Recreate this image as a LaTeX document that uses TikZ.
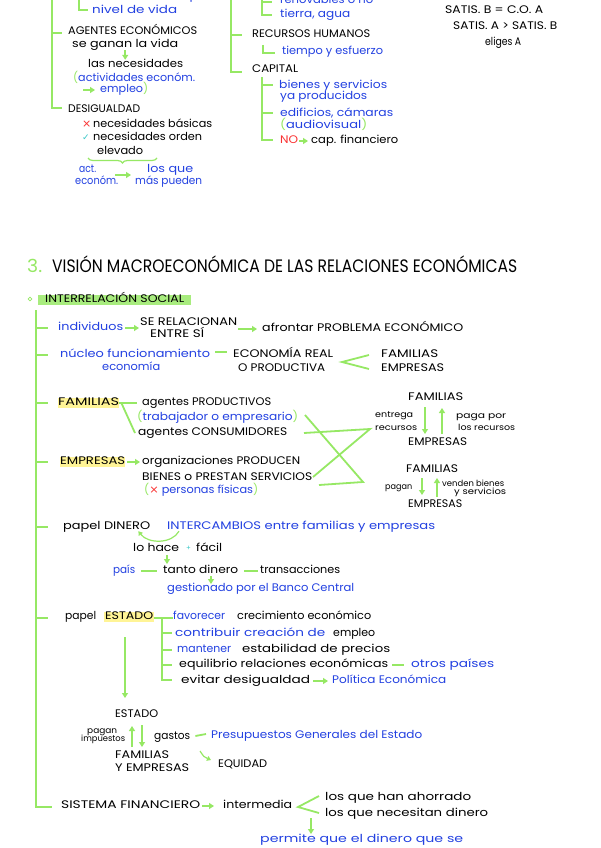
\documentclass[tikz,border=0pt]{standalone}
\usepackage{fontspec}
\setmainfont{Poppins}
\newfontfamily\dejavu{DejaVu Sans}
\usetikzlibrary{arrows.meta,decorations.pathreplacing}
\definecolor{grn}{RGB}{150,232,100}
\definecolor{blu}{RGB}{35,65,225}
\definecolor{redA}{RGB}{250,50,50}
\definecolor{tealA}{RGB}{60,200,200}
\definecolor{yel}{RGB}{255,244,150}
\definecolor{hgrn}{RGB}{168,236,126}
\newcommand\W[2]{\resizebox{#1pt}{\height}{#2}}
\newcommand\gp[1]{\textcolor{grn}{#1}}
\begin{document}
\begin{tikzpicture}[x=1pt,y=-1pt,
  tx/.style={anchor=west, inner sep=0pt, font=\fontsize{11}{13}\selectfont, text height=7.8pt, text depth=2.2pt},
  bl/.style={tx, text=blu},
  sm/.style={tx, font=\fontsize{8.5}{9.5}\selectfont, text height=6pt, text depth=1.6pt},
  ttl/.style={tx, font=\fontsize{18}{20}\selectfont, text height=12.8pt, text depth=3pt},
  gl/.style={draw=grn, line width=1.8pt},
  ga/.style={gl, -{Triangle[length=5pt,width=6pt]}},
  gthin/.style={draw=grn, line width=1.2pt, -{Triangle[length=4pt,width=5pt]}}]
\useasboundingbox (0,0) rectangle (600,848);
\fill[white] (0,0) rectangle (600,848);

% ---------- top left ----------
\draw[gl] (52,-5) -- (52,108) -- (62,108);
\draw[gl] (52,33) -- (62,33);
\draw[gl] (79,-5) -- (79,10) -- (88,10);
\node[bl] (pobl) at (92,-3) {\W{128}{bienestar de la pobl.}};
\node[bl] (nivel) at (92,11) {\W{85}{nivel de vida}};
\node[tx] (agentes) at (68,32) {\W{129}{AGENTES ECONÓMICOS}};
\node[tx] (ganan) at (72,45) {\W{106}{se ganan la vida}};
\node[tx] (neces) at (88,65) {\W{95}{las necesidades}};
\draw[ga] (ganan.south) -- (ganan.south |- neces.north);
\node[bl] (activ) at (73,79) {\W{122}{\gp{(}actividades económ.}};
\node[bl] (empleo) at (100,90) {\W{48}{empleo\gp{)}}};
\draw[ga] ([xshift=-17pt]empleo.west) -- ([xshift=-5pt]empleo.west);
\node[tx] (desig) at (68,110) {\W{72}{DESIGUALDAD}};
\node[tx,text=redA] (cross) at (82,125) {\dejavu ×};
\node[tx] (basicas) at (93,125) {\W{119}{necesidades básicas}};
\node[tx,text=tealA] (check) at (82,138) {\dejavu\fontsize{9}{10}\selectfont ✓};
\node[tx] (orden) at (93,138) {\W{109}{necesidades orden}};
\node[tx] (elevado) at (97,152) {\W{46}{elevado}};
\draw[draw=grn, line width=1.2pt, decorate, decoration={brace,mirror,amplitude=5pt}] (88,158) -- (157,158);
\node[bl] (act) at (79,170) {\W{17}{act.}};
\node[bl] (econ) at (75,182) {\W{43}{económ.}};
\node[bl] (losque) at (147,170) {\W{46}{los que}};
\node[bl] (maspue) at (135,182) {\W{67}{más pueden}};
\draw[ga] (115,175) -- (131,175);

% ---------- top middle ----------
\draw[gl] (231,-5) -- (231,72) -- (242,72);
\draw[gl] (231,35) -- (242,35);
\draw[gl] (262,-5) -- (262,15) -- (272,15);
\draw[gl] (262,2) -- (272,2);
\node[bl] (renov) at (280,1) {\W{93}{renovables o no}};
\node[bl] (tierra) at (280,15) {\W{70}{tierra, agua}};
\node[tx] (rrhh) at (252,35) {\W{118}{RECURSOS HUMANOS}};
\draw[gl] (263,45) -- (263,53) -- (275,53);
\node[bl] (tiempo) at (282,52) {\W{101}{tiempo y esfuerzo}};
\node[tx] (capital) at (252,70) {\W{46}{CAPITAL}};
\draw[gl] (262,77) -- (262,140) -- (273,140);
\draw[gl] (262,85) -- (273,85);
\draw[gl] (262,113) -- (273,113);
\node[bl] (bienes) at (279,86) {\W{108}{bienes y servicios}};
\node[bl] (yaprod) at (280,97) {\W{87}{ya producidos}};
\node[bl] (edif) at (280,114) {\W{113}{edificios, cámaras}};
\node[bl] (audio) at (280,126) {\W{87}{\gp{(}audiovisual\gp{)}}};
\node[tx,text=redA] (no) at (280,141) {\W{18}{NO}};
\node[tx] (capfin) at (311,141) {\W{87}{cap. financiero}};
\draw[ga] ([xshift=1pt]no.east) -- ([xshift=-3pt]capfin.west);

% ---------- top right ----------
\node[tx] (satA0) at (445,-4) {\W{98}{SATIS. A = C.O. B}};
\node[tx] (satB) at (445,11) {\W{98}{SATIS. B = C.O. A}};
\node[tx] (satAB) at (453,27) {\W{104}{SATIS. A > SATIS. B}};
\node[tx] (eliges) at (485,43) {\W{36}{eliges A}};

% ---------- section 3 ----------
\node[ttl,text=grn] (three) at (27,268) {\W{15}{3.}};
\node[ttl] (title) at (52,268) {\W{465}{VISIÓN MACROECONÓMICA DE LAS RELACIONES ECONÓMICAS}};
\node[circle,draw=grn,line width=0.8pt,inner sep=1.3pt] (bul) at (30,299) {};
\node[tx,fill=hgrn,inner xsep=7pt,inner ysep=0.3pt] (inter) at (38,300) {\W{139}{INTERRELACIÓN SOCIAL}};

\draw[gl] (36,310) -- (36,807) -- (52,807);
\foreach \yy in {328,355,403,462,527,618} \draw[gl] (36,\yy) -- (48,\yy);

% row individuos
\node[bl] (indiv) at (58,328) {\W{65}{individuos}};
\node[tx] (serel) at (140,323) {\W{97}{SE RELACIONAN}};
\node[tx] (entre) at (150,335) {\W{54}{ENTRE SÍ}};
\node[tx] (afron) at (262,329) {\W{201}{afrontar PROBLEMA ECONÓMICO}};
\draw[ga] ([xshift=2pt]indiv.east) -- ([xshift=-1pt]indiv.east -| serel.west);
\draw[ga] ([xshift=1pt,yshift=-6pt]serel.east) -- ([xshift=-5pt]afron.west);

% row nucleo
\node[bl] (nucleo) at (60,355) {\W{150}{núcleo funcionamiento}};
\node[bl] (econo) at (102,368) {\W{58}{economía}};
\node[tx] (ecreal) at (233,355) {\W{100}{ECONOMÍA REAL}};
\node[tx] (oprod) at (238,369) {\W{87}{O PRODUCTIVA}};
\node[tx] (fam1) at (381,355) {\W{57}{FAMILIAS}};
\node[tx] (emp1) at (381,369) {\W{63}{EMPRESAS}};
\draw[gl] ([xshift=5pt,yshift=3pt]nucleo.east) -- ([xshift=-6pt,yshift=3pt]ecreal.west);
\coordinate (apex1) at (342,362);
\draw[gl] ([xshift=-12pt]fam1.west) -- (apex1) -- ([xshift=-12pt]emp1.west);

% row familias
\node[tx,fill=yel] (fam2) at (58,403) {\W{61}{FAMILIAS}};
\node[tx] (agprod) at (142,403) {\W{129}{agentes PRODUCTIVOS}};
\node[bl] (trab) at (137,418) {\W{161}{\gp{(}trabajador o empresario\gp{)}}};
\node[tx] (agcons) at (138,433) {\W{149}{agentes CONSUMIDORES}};
\draw[gl] (fam2.east) -- ([xshift=-5pt]agprod.west);
\draw[gl] ([xshift=2pt]fam2.east) -- ([xshift=-3pt]agcons.west);

% row empresas
\node[tx,fill=yel] (emp2) at (60,462) {\W{65}{EMPRESAS}};
\node[tx] (organ) at (142,462) {\W{158}{organizaciones PRODUCEN}};
\node[tx] (bien2) at (142,478) {\W{170}{BIENES o PRESTAN SERVICIOS}};
\node[bl] (pers) at (144,491) {\W{114}{\gp{(}\textcolor{redA}{\dejavu ×} personas físicas\gp{)}}};
\draw[ga] ([xshift=2pt]emp2.east) -- ([xshift=-2pt]organ.west);

% right flow diagrams
\node[tx] (fam3) at (408,398) {\W{55}{FAMILIAS}};
\node[tx] (emp3) at (408,443) {\W{59}{EMPRESAS}};
\draw[ga] (425,407) -- (425,434);
\draw[ga] (442,434) -- (442,408);
\node[sm] (entrega) at (375,415) {\W{38}{entrega}};
\node[sm] (recur) at (375,428) {\W{42}{recursos}};
\node[sm] (pagapor) at (456,416) {\W{50}{paga por}};
\node[sm] (losrec) at (458,428) {\W{57}{los recursos}};

\node[tx] (fam4) at (406,470) {\W{52}{FAMILIAS}};
\node[tx] (emp4) at (408,505) {\W{54}{EMPRESAS}};
\draw[ga] (422,478) -- (422,495);
\draw[ga] (437,497) -- (437,478);
\node[sm] (pagan) at (385,487) {\W{27}{pagan}};
\node[sm] (venden) at (442,484) {\W{62}{venden bienes}};
\node[sm] (yserv) at (454,492) {\W{52}{y servicios}};

\coordinate (apexT) at (370,429);
\coordinate (apexB) at (363,482);
\draw[gl] (305,415) -- (apexB) -- (319,485);
\draw[gl] (304,433) -- (apexT) -- (313,477);

% row dinero
\node[tx] (papeldin) at (63,527) {\W{87}{papel DINERO}};
\node[bl] (interc) at (167,527) {\W{268}{INTERCAMBIOS entre familias y empresas}};
\draw[gthin] ([xshift=12pt,yshift=1pt]interc.south west) .. controls (172,544) and (148,544) .. ([xshift=-12pt,yshift=1pt]papeldin.south east);
\node[tx] (lohace) at (133,549) {\W{46}{lo hace}};
\node[tx,text=tealA] (mas) at (186,548) {\fontsize{7}{8}\selectfont +};
\node[tx] (facil) at (196,549) {\W{26}{fácil}};
\node[bl] (pais) at (113,571) {\W{22}{país}};
\node[tx] (tanto) at (163,571) {\W{75}{tanto dinero}};
\node[tx] (trans) at (260,571) {\W{80}{transacciones}};
\node[bl] (gest) at (167,589) {\W{187}{gestionado por el Banco Central}};
\draw[ga] (167,555) -- (167,564);
\draw[gl] ([xshift=6pt]pais.east) -- ([xshift=-6pt]tanto.west);
\draw[gl] ([xshift=6pt]tanto.east) -- ([xshift=-2pt]trans.west);
\draw[ga] (211,576) -- (211,584);

% row estado
\node[tx] (papel2) at (65,617) {\W{31}{papel}};
\node[tx,fill=yel,inner xsep=1pt] (estado) at (104,617) {\W{48}{ESTADO}};
\draw[gl] (154,618) -- (173,618);
\draw[gl] (162,618) -- (162,680) -- (172,680);
\foreach \yy in {633,650,665} \draw[gl] (162,\yy) -- (172,\yy);
\node[bl] (fav) at (173,617) {\W{52}{favorecer}};
\node[tx] (crec) at (237,617) {\W{134}{crecimiento económico}};
\node[bl] (contr) at (175,634) {\W{150}{contribuir creación de}};
\node[tx] (empl2) at (333,634) {\W{42}{empleo}};
\node[bl] (mant) at (177,650) {\W{54}{mantener}};
\node[tx] (estab) at (242,650) {\W{148}{estabilidad de precios}};
\node[tx] (equil) at (179,665) {\W{209}{equilibrio relaciones económicas}};
\node[bl] (otros) at (411,665) {\W{83}{otros países}};
\draw[gl] ([xshift=4pt]equil.east) -- ([xshift=-7pt]otros.west);
\node[tx] (evitar) at (181,681) {\W{129}{evitar desigualdad}};
\node[bl] (polit) at (332,681) {\W{114}{Política Económica}};
\draw[ga] ([xshift=3pt]evitar.east) -- ([xshift=-4pt]polit.west);

\node[tx] (estado2) at (115,715) {\W{43}{ESTADO}};
\draw[ga] (125,637) -- (125,698);
\draw[ga] (132,747) -- (132,726);
\draw[ga] (142,725) -- (142,747);
\node[sm] (pagan2) at (87,731) {\W{30}{pagan}};
\node[sm] (impu) at (81,739) {\W{44}{impuestos}};
\node[tx] (gastos) at (154,737) {\W{36}{gastos}};
\node[bl] (presup) at (211,736) {\W{211}{Presupuestos Generales del Estado}};
\draw[gl] ([xshift=5pt,yshift=1pt]gastos.east) -- ([xshift=-5pt,yshift=2pt]presup.west);
\node[tx] (fam5) at (115,756) {\W{54}{FAMILIAS}};
\node[tx] (yemp) at (115,769) {\W{74}{Y EMPRESAS}};
\node[tx] (equidad) at (218,765) {\W{49}{EQUIDAD}};
\draw[gthin] (200,751) .. controls (204,757) .. (211,760);

% sistema financiero
\node[tx] (sist) at (61,806) {\W{139}{SISTEMA FINANCIERO}};
\node[tx] (interm) at (223,806) {\W{69}{intermedia}};
\draw[ga] ([xshift=2pt]sist.east) -- ([xshift=-9pt]interm.west);
\node[tx] (ahorr) at (325,798) {\W{146}{los que han ahorrado}};
\node[tx] (necd) at (325,814) {\W{163}{los que necesitan dinero}};
\coordinate (apex2) at (298,807);
\draw[gl] ([xshift=-6pt,yshift=2pt]ahorr.west) -- (apex2) -- ([xshift=-6pt,yshift=1pt]necd.west);
\draw[ga] (311,818) -- (311,834);
\node[bl] (permite) at (260,840) {\W{203}{permite que el dinero que se}};
\end{tikzpicture}
\end{document}
